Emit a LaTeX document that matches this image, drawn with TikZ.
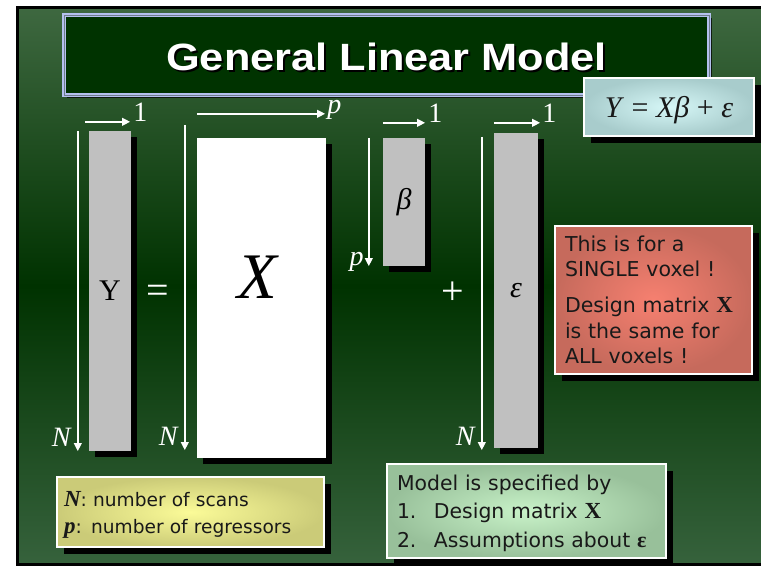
\documentclass[tikz,border=0pt]{standalone}
\usepackage{fontspec}
\setsansfont{DejaVu Sans}
\newfontfamily\tms{Liberation Serif}
\newfontfamily\headfont{Liberation Sans}
\usetikzlibrary{arrows.meta,positioning,shadows}
\definecolor{slidedark}  {RGB}{0,50,0}
\definecolor{slidelight} {RGB}{62,104,64}
\definecolor{slidelightb}{RGB}{54,98,60}
\definecolor{titlegreen} {RGB}{0,51,0}
\definecolor{titleblue}  {RGB}{180,192,238}
\definecolor{titlegray}  {RGB}{110,125,140}
\definecolor{bargray}    {RGB}{192,192,192}
\definecolor{redin}      {RGB}{246,128,112}
\definecolor{redout}     {RGB}{198,106,92}
\definecolor{yellowin}   {RGB}{251,251,152}
\definecolor{yellowout}  {RGB}{203,203,120}
\definecolor{greenin}    {RGB}{200,242,200}
\definecolor{greenout}   {RGB}{152,192,154}
\definecolor{cyanin}     {RGB}{214,247,247}
\definecolor{cyanout}    {RGB}{168,204,204}
\tikzset{
  shadowed/.style={drop shadow={shadow xshift=#1, shadow yshift=-#1,
                   fill=black, opacity=1}},
  shadowed/.default=6pt,
  colbar/.style  ={shadowed, fill=bargray, inner sep=0pt, minimum width=#1,
                   font=\tms\fontsize{30}{30}\selectfont},
  colbar/.default=42pt,
  dimarr/.style  ={white, line width=2.2pt, -{Triangle[length=8pt,width=7.5pt]}},
  dimlbl/.style  ={text=white, inner sep=1pt, font=\tms\fontsize{28}{28}\selectfont},
  opsign/.style  ={text=white, inner sep=0pt, font=\tms\fontsize{40}{40}\selectfont},
  notebox/.style ={shadowed=#1, draw=white, line width=1.5pt, align=left,
                   inner ysep=0pt, text=black!90},
  notebox/.default=7pt,
  titlebox/.style={fill=titlegreen, draw=titleblue, double=titlegray,
                   double distance=1pt, line width=1.5pt,
                   minimum width=645pt, minimum height=80pt,
                   drop shadow={shadow xshift=3pt, shadow yshift=-3pt,
                   fill=black, opacity=0.7}},
  titletext/.style={inner sep=0pt, text=white,
                   font=\headfont\bfseries\fontsize{38}{38}\selectfont},
}
\begin{document}
\begin{tikzpicture}[x=1pt,y=-1pt]
  \useasboundingbox (0,0) rectangle (761,566);
  \fill[white] (0,0) rectangle (761,566);
  % slide background
  \path[shading angle=45, top color=slidelight, bottom color=slidelightb,
        middle color=slidedark] (17.5,7.5) rectangle (775,564.5);
  \draw[line width=3pt, black] (17.5,7.5) rectangle (775,564.5);

  \node[titlebox] (title) at (386.5,55) {};
  \node[titletext, text=black] (titleshade) at ([xshift=2pt,yshift=-3.5pt]title.center)
       {\scalebox{1.14}[1]{General Linear Model}};
  \node[titletext] (titlelbl) at ([yshift=-1.5pt]title.center)
       {\scalebox{1.14}[1]{General Linear Model}};

  \node[notebox, inner color=cyanin, outer color=cyanout, text depth=0pt,
        minimum width=170pt, minimum height=58pt,
        font=\tms\fontsize{30}{30}\selectfont] (model) at (669,107)
       {\textit{Y} = \textit{Xβ} + \textit{ε}};

  % matrices
  \node[colbar, minimum height=320pt] (ybar) at (110,291) {Y};
  \node[colbar=129pt, fill=white, minimum height=320pt] (xbox) at (261.5,298) {};
  \node[inner sep=0pt, font=\tms\itshape\fontsize{65}{65}\selectfont]
       (xlbl) at ([xshift=-4pt,yshift=21pt]xbox.center) {X};
  \node[colbar, minimum height=128pt] (bbar) at (404,202) {\itshape β};
  \node[colbar=44pt, minimum height=315pt] (ebar) at (516,290.5) {\itshape ε};
  \node[opsign, right=15pt of ybar, yshift=-3pt] (eqsign) {=};
  \node[opsign] (plussign) at (453,293) {+};

  \draw[dimarr] ([xshift=-11pt]ybar.north west) -- ([xshift=-11pt]ybar.south west)
        coordinate (ydown);
  \draw[dimarr] ([xshift=-4pt,yshift=9pt]ybar.north west)
        -- ([xshift=-1pt,yshift=9pt]ybar.north east) coordinate (yright);
  \draw[dimarr] ([xshift=-12pt,yshift=13pt]xbox.north west)
        -- ([xshift=-12pt,yshift=8pt]xbox.south west) coordinate (xdown);
  \draw[dimarr] ([yshift=24pt]xbox.north west)
        -- ([xshift=-1pt,yshift=24pt]xbox.north east) coordinate (xright);
  \draw[dimarr] ([xshift=-14pt]bbar.north west) -- ([xshift=-14pt]bbar.south west)
        coordinate (bdown);
  \draw[dimarr] ([yshift=15pt]bbar.north west) -- ([yshift=15pt]bbar.north east)
        coordinate (bright);
  \draw[dimarr] ([xshift=-12pt,yshift=-4pt]ebar.north west)
        -- ([xshift=-12pt,yshift=-2pt]ebar.south west) coordinate (edown);
  \draw[dimarr] ([yshift=10pt]ebar.north west)
        -- ([xshift=2pt,yshift=10pt]ebar.north east) coordinate (eright);

  \node[dimlbl, anchor=base east] (yN) at ([xshift=-6pt,yshift=5pt]ydown) {\itshape N};
  \node[dimlbl, anchor=base west] (yone) at ([xshift=2pt]yright) {1};
  \node[dimlbl, anchor=base east] (xN) at ([xshift=-6pt,yshift=5pt]xdown) {\itshape N};
  \node[dimlbl, anchor=base west] (xp) at ([xshift=1pt]xright) {\itshape p};
  \node[dimlbl, anchor=base east] (bp) at ([xshift=-4pt,yshift=1pt]bdown) {\itshape p};
  \node[dimlbl, anchor=base west] (bone) at ([xshift=2pt]bright) {1};
  \node[dimlbl, anchor=base east] (eN) at ([xshift=-6pt,yshift=5pt]edown) {\itshape N};
  \node[dimlbl, anchor=base west] (eone) at ([xshift=1pt]eright) {1};

  % notes
  \node[notebox, inner color=redin, outer color=redout,
        minimum width=197pt, minimum height=148pt, text width=177pt, inner xsep=10pt,
        font=\sffamily\fontsize{20.5}{25.5}\selectfont] (single) at (653.5,300)
       {This is for a\\ SINGLE voxel !\\[10.5pt]
        Design matrix {\tms\bfseries\fontsize{23}{25.5}\selectfont X}\\
        is the same for\\ ALL voxels !};
  \node[notebox, inner color=yellowin, outer color=yellowout, text depth=27pt,
        minimum width=267pt, minimum height=70pt, text width=253pt, inner xsep=7pt,
        font=\sffamily\fontsize{18.6}{27}\selectfont] (dims) at (190.5,512)
       {{\tms\bfseries\itshape\fontsize{23}{27}\selectfont N}: number of scans\\
        {\tms\bfseries\itshape\fontsize{23}{27}\selectfont p}: number of regressors};
  \node[notebox, inner color=greenin, outer color=greenout, text depth=57pt,
        minimum width=279pt, minimum height=94pt, text width=259pt, inner xsep=10pt,
        font=\sffamily\fontsize{20.4}{28.5}\selectfont] (spec) at (526.5,511)
       {Model is specified by\\
        \makebox[37pt][l]{1.}Design matrix {\tms\bfseries\fontsize{23}{28.5}\selectfont X}\\
        \makebox[37pt][l]{2.}Assumptions about {\tms\bfseries\fontsize{22}{28.5}\selectfont ε}};
\end{tikzpicture}
\end{document}
